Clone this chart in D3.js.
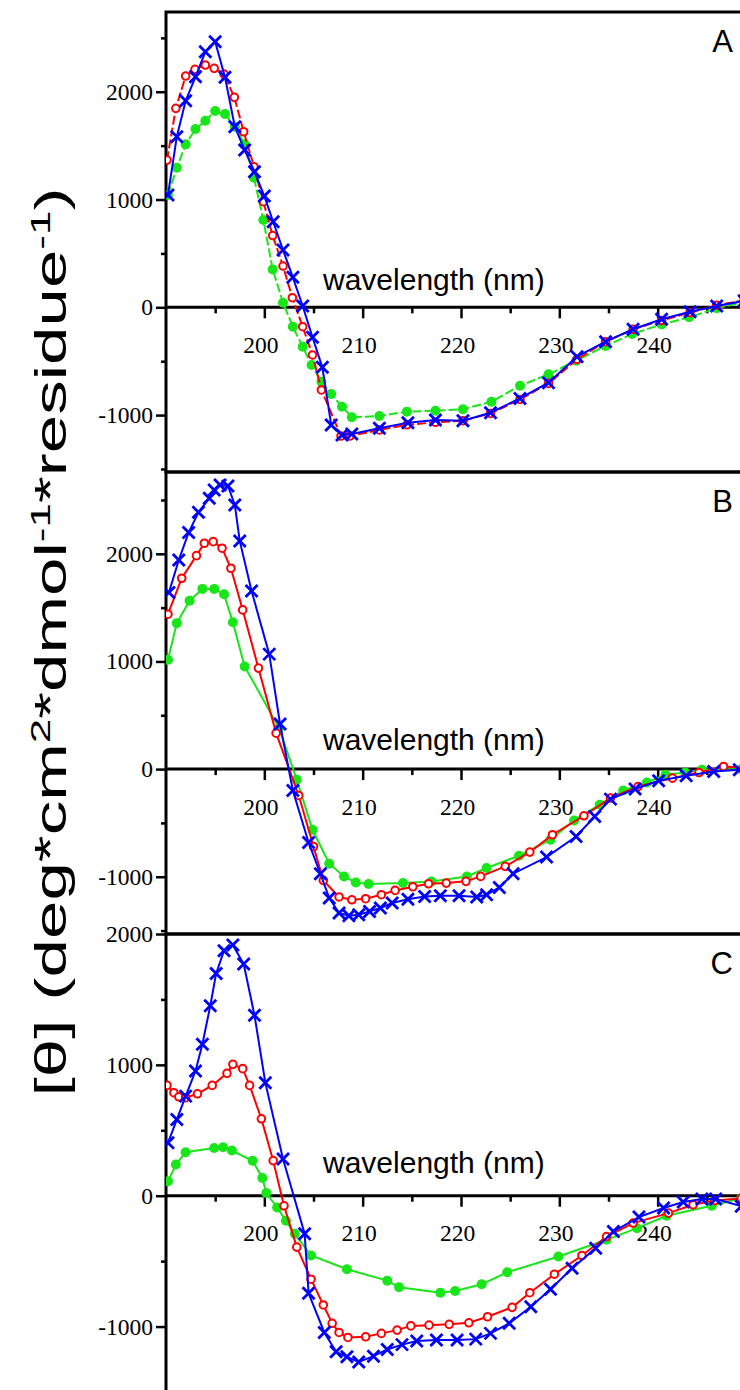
<!DOCTYPE html>
<html>
<head>
<meta charset="utf-8">
<script src="https://cdn.jsdelivr.net/npm/d3@7"></script>
<style>
  body { margin: 0; background: #fff; }
  svg { display: block; }
</style>
</head>
<body>
<div id="chart"></div>
<script>
// CD spectra, three panels (A, B, C), [wavelength nm, ellipticity]
const aRed = [[190.1,1366],[191.0,1846],[192.0,2146],[192.95,2208],[194.0,2248],[194.9,2217],[195.9,2164],[196.95,1948],[197.9,1629],[198.95,1304],[199.9,980],[200.85,666],[201.9,383],[202.85,89],[203.9,-180],[204.9,-442],[205.8,-767],[207.8,-1194],[208.7,-1194],[211.7,-1138],[214.5,-1090],[217.4,-1067],[220.2,-1052],[223.0,-985],[226.0,-855],[228.9,-706],[231.8,-483],[234.7,-319],[237.5,-204],[240.4,-123],[243.3,-48],[246.0,19],[248.8,65]];
const aBlue = [[190.2,1042],[191.1,1583],[192.0,1917],[193.0,2139],[194.0,2371],[195.0,2464],[196.0,2134],[197.0,1675],[198.0,1459],[199.0,1258],[200.0,1032],[200.9,794],[201.9,532],[202.9,278],[203.9,12],[204.9,-278],[205.9,-557],[206.8,-1092],[207.9,-1185],[208.9,-1176],[211.7,-1123],[214.6,-1070],[217.4,-1045],[220.2,-1052],[223.0,-978],[226.0,-845],[228.9,-699],[231.8,-458],[234.7,-319],[237.5,-204],[240.4,-111],[243.3,-41],[246.0,12],[248.8,60]];
const aGreen = [[190.2,1042],[191.1,1295],[192.0,1512],[193.0,1654],[194.0,1731],[195.0,1821],[196.0,1793],[197.0,1675],[198.0,1512],[198.95,1202],[199.9,810],[200.85,352],[201.9,43],[202.9,-180],[203.9,-366],[204.8,-535],[205.8,-690],[206.8,-804],[207.9,-922],[208.9,-1020],[211.7,-1008],[214.5,-968],[217.4,-959],[220.2,-946],[223.1,-876],[226.0,-727],[228.9,-622],[231.7,-495],[234.7,-359],[237.4,-248],[240.4,-158],[243.2,-93],[246.0,-9],[248.8,50]];

const bRed = [[190.2,1439],[191.6,1773],[193.1,1983],[193.9,2098],[194.8,2113],[195.7,2052],[196.6,1866],[197.8,1479],[199.4,938],[201.2,334],[203.5,-245],[205.0,-719],[206.0,-1034],[207.6,-1188],[208.9,-1214],[210.3,-1204],[211.9,-1167],[213.3,-1127],[215.1,-1093],[216.7,-1065],[218.5,-1059],[220.5,-1043],[222.0,-997],[224.5,-904],[227.0,-771],[229.3,-610],[232.5,-434],[235.2,-269],[238.0,-162],[241.5,-84],[244.2,-32],[246.7,24],[249.0,10]];
const bBlue = [[190.3,1640],[191.3,1943],[192.3,2197],[193.3,2386],[194.4,2516],[194.9,2593],[195.5,2640],[196.3,2630],[197.0,2454],[197.5,2120],[198.7,1655],[200.5,1068],[201.6,418],[202.9,-199],[204.5,-682],[205.7,-972],[206.6,-1198],[207.6,-1337],[208.6,-1362],[209.6,-1353],[210.7,-1322],[211.8,-1291],[213.0,-1244],[214.6,-1210],[216.3,-1183],[217.9,-1176],[219.8,-1176],[221.6,-1188],[222.6,-1167],[223.9,-1099],[225.3,-972],[228.7,-817],[231.7,-626],[233.6,-440],[235.2,-279],[237.7,-186],[240.1,-109],[242.9,-62],[245.7,-22],[248.3,-6]];
const bGreen = [[190.2,1015],[191.1,1356],[192.4,1565],[193.7,1674],[194.9,1674],[195.9,1625],[196.8,1365],[198.0,953],[201.5,380],[203.3,-99],[204.9,-564],[206.6,-879],[208.1,-997],[209.3,-1053],[210.6,-1068],[214.1,-1059],[217.0,-1044],[220.6,-997],[222.6,-919],[225.9,-805],[229.1,-656],[231.5,-477],[234.1,-331],[236.5,-199],[238.9,-124],[240.8,-53],[242.8,-32],[244.5,-6],[248.5,0]];

const cRed = [[190.1,843],[190.8,787],[191.3,756],[192.0,749],[193.2,779],[194.7,843],[196.2,935],[196.8,1004],[197.8,971],[198.5,843],[199.7,588],[200.9,268],[202.0,-77],[203.3,-393],[204.75,-638],[206.0,-835],[206.9,-975],[207.6,-1045],[208.5,-1083],[210.3,-1078],[211.9,-1052],[213.5,-1027],[214.9,-995],[216.75,-989],[218.8,-983],[220.8,-971],[222.7,-925],[225.2,-853],[227.0,-741],[229.5,-600],[232.3,-457],[234.8,-312],[237.5,-209],[241.1,-133],[243.6,-69],[245.8,-36],[248.5,-20]];
const cBlue = [[190.2,404],[191.1,582],[192.0,761],[193.0,953],[193.7,1157],[194.5,1451],[195.1,1699],[195.9,1872],[196.8,1916],[197.9,1770],[199.0,1379],[200.1,864],[201.9,281],[204.1,-291],[204.5,-746],[206.1,-1045],[207.3,-1193],[208.4,-1231],[209.6,-1270],[211.1,-1226],[212.5,-1175],[214.0,-1138],[215.5,-1110],[217.5,-1103],[219.6,-1103],[221.5,-1096],[223.0,-1052],[224.9,-975],[227.1,-848],[229.1,-715],[231.3,-554],[233.7,-401],[235.5,-273],[238.1,-163],[240.6,-94],[242.6,-48],[244.5,-25],[245.9,-25],[248.5,-80]];
const cGreen = [[190.2,110],[191.0,238],[192.0,332],[194.9,365],[195.8,370],[196.7,345],[198.8,267],[199.8,136],[200.2,21],[201.3,-90],[202.2,-192],[203.1,-291],[204.75,-457],[208.4,-562],[212.5,-649],[213.7,-700],[217.9,-741],[219.4,-728],[222.1,-677],[224.7,-585],[229.9,-465],[234.8,-337],[237.9,-248],[240.9,-153],[245.5,-77],[248.5,-18]];

const xTicks = [200, 210, 220, 230, 240];
const xMinor = [195, 205, 215, 225, 235, 245];
const yTicks = [-1000, 0, 1000, 2000];
const yMinor = [-1500, -500, 500, 1500, 2500];
const panelNames = ['A', 'B', 'C'];

const width = 740, height = 1390;
const svg = d3.select('#chart').append('svg')
  .attr('width', width)
  .attr('height', height);

const x = d3.scaleLinear().domain([190, 250]).range([166, 756]);

// panel layout: y domain + pixel range, dashed lines only in A
const panels = [
  { name: panelNames[0], domain: [-1528, 2740], range: [472, 12], red: aRed, blue: aBlue, green: aGreen, dashed: true, labelOff: 17 },
  { name: panelNames[1], domain: [-1532, 2760], range: [934, 472], red: bRed, blue: bBlue, green: bGreen, dashed: false, labelOff: 19 },
  { name: panelNames[2], domain: [-1500, 2000], range: [1392, 934], red: cRed, blue: cBlue, green: cGreen, dashed: false, labelOff: 23 }
];

const GREEN = '#19e619', RED = '#ff0000', BLUE = '#0000ff';

panels.forEach(p => {
  const y = d3.scaleLinear().domain(p.domain).range(p.range);
  const g = svg.append('g');

  // frame
  g.append('rect')
    .attr('x', x(190)).attr('y', p.range[1])
    .attr('width', x(250) - x(190)).attr('height', p.range[0] - p.range[1])
    .attr('fill', 'none').attr('stroke', '#000').attr('stroke-width', 3);

  // y axis (major + minor)
  const yAxis = g.append('g')
    .attr('transform', `translate(${x(190)},0)`)
    .call(d3.axisLeft(y).tickValues(yTicks).tickSize(10).tickPadding(3).tickFormat(d => String(d)));
  const yAxisMinor = g.append('g')
    .attr('transform', `translate(${x(190)},0)`)
    .call(d3.axisLeft(y).tickValues(yMinor.filter(v => v > p.domain[0] && v < p.domain[1])).tickSize(5).tickFormat(''));

  // x axis along zero line
  const xAxis = g.append('g')
    .attr('transform', `translate(0,${y(0)})`)
    .call(d3.axisBottom(x).tickValues(xTicks).tickSize(11).tickPadding(18).tickFormat(d => String(d)));
  const xAxisMinor = g.append('g')
    .attr('transform', `translate(0,${y(0)})`)
    .call(d3.axisBottom(x).tickValues(xMinor).tickSize(6).tickFormat(''));

  [yAxis, yAxisMinor, xAxis, xAxisMinor].forEach(a => {
    a.select('.domain').remove();
    a.selectAll('line').attr('stroke', '#000').attr('stroke-width', 2.5);
    a.selectAll('text')
      .attr('fill', '#000')
      .style('font-family', '"Liberation Serif", "Times New Roman", serif')
      .style('font-size', '23.5px');
  });
  xAxis.selectAll('text').attr('dx', -4);

  g.append('line')
    .attr('x1', x(190)).attr('x2', x(250))
    .attr('y1', y(0)).attr('y2', y(0))
    .attr('stroke', '#000').attr('stroke-width', 3);

  g.append('text')
    .attr('x', 323).attr('y', y(0) - p.labelOff)
    .style('font-family', '"Liberation Sans", Arial, sans-serif')
    .style('font-size', '30px')
    .text('wavelength (nm)');

  g.append('text')
    .attr('x', 733).attr('y', p.range[1] + 40)
    .attr('text-anchor', 'end')
    .style('font-family', '"Liberation Sans", Arial, sans-serif')
    .style('font-size', '31px')
    .text(p.name);

  const line = d3.line().x(d => x(d[0])).y(d => y(d[1]));
  const clipId = 'clip' + p.name;
  svg.append('clipPath').attr('id', clipId).append('rect')
    .attr('x', x(190)).attr('y', p.range[1])
    .attr('width', x(250) - x(190)).attr('height', p.range[0] - p.range[1]);
  const plot = g.append('g').attr('clip-path', `url(#${clipId})`);

  // green, filled circles
  plot.append('path').datum(p.green)
    .attr('d', line).attr('fill', 'none').attr('stroke', GREEN).attr('stroke-width', 2)
    .attr('stroke-dasharray', p.dashed ? '9,3' : null);
  plot.selectAll('.gdot').data(p.green).join('circle')
    .attr('class', 'gdot')
    .attr('cx', d => x(d[0])).attr('cy', d => y(d[1])).attr('r', 5)
    .attr('fill', GREEN);

  // red, open circles
  plot.append('path').datum(p.red)
    .attr('d', line).attr('fill', 'none').attr('stroke', RED).attr('stroke-width', 2)
    .attr('stroke-dasharray', p.dashed ? '9,3' : null);
  plot.selectAll('.rdot').data(p.red).join('circle')
    .attr('class', 'rdot')
    .attr('cx', d => x(d[0])).attr('cy', d => y(d[1])).attr('r', 3.8)
    .attr('fill', '#fff').attr('stroke', RED).attr('stroke-width', 2);

  // blue, crosses
  plot.append('path').datum(p.blue)
    .attr('d', line).attr('fill', 'none').attr('stroke', BLUE).attr('stroke-width', 2);
  const s = 6;
  plot.selectAll('.bx').data(p.blue).join('path')
    .attr('class', 'bx')
    .attr('d', d => {
      const cx = x(d[0]), cy = y(d[1]);
      return `M${cx - s},${cy - s}L${cx + s},${cy + s}M${cx - s},${cy + s}L${cx + s},${cy - s}`;
    })
    .attr('stroke', BLUE).attr('stroke-width', 2.8).attr('fill', 'none');
});

// shared y title, stretched along its length like the source figure
svg.append('text')
  .attr('transform', 'translate(66,642) rotate(-90) scale(1.57,1)')
  .attr('text-anchor', 'middle')
  .style('font-family', '"Liberation Sans", Arial, sans-serif')
  .style('font-size', '44px')
  .html('[θ] (deg*cm<tspan dy="-16" font-size="28px">2</tspan><tspan dy="16">*dmol</tspan><tspan dy="-16" font-size="28px">-1</tspan><tspan dy="16">*residue</tspan><tspan dy="-16" font-size="28px">-1</tspan><tspan dy="16">)</tspan>');
</script>
</body>
</html>
